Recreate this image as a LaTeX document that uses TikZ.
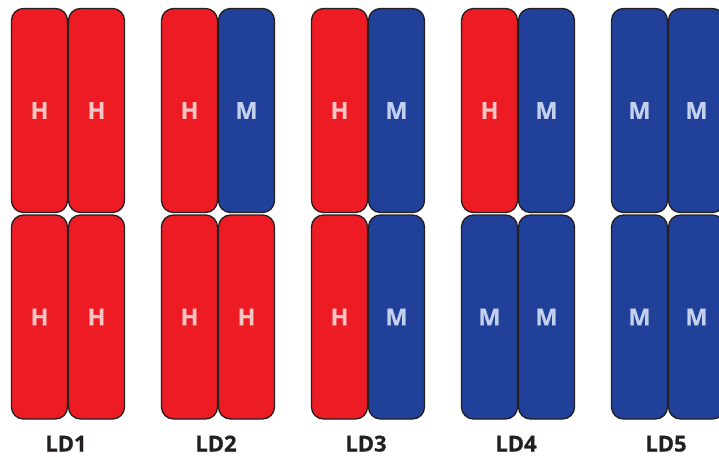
\documentclass[tikz,border=0pt]{standalone}
\usepackage{fontspec}
\setmainfont{Open Sans}[BoldFeatures={FakeBold=0.6}]
\definecolor{hred}{HTML}{ED1C24}
\definecolor{mblue}{HTML}{21409A}
\definecolor{hlab}{HTML}{F6C6C4}
\definecolor{mlab}{HTML}{C3D0EE}
\definecolor{edge}{HTML}{231F20}
\tikzset{
  chrom/.style={draw=edge, line width=1.3pt, rounded corners=12pt, minimum width=56pt, minimum height=204pt, inner sep=0pt, font=\fontsize{23.5}{23.5}\selectfont\bfseries},
  Hbox/.style={chrom, fill=hred, text=hlab},
  Mbox/.style={chrom, fill=mblue, text=mlab},
  ldlab/.style={font=\fontsize{22}{22}\selectfont\bfseries, text=edge, inner sep=0pt, anchor=base}
}
\begin{document}
\begin{tikzpicture}[x=1pt,y=-1pt]
\useasboundingbox (0,0) rectangle (719,456);
\fill[white] (0,0) rectangle (719,456);
\foreach \i/\a/\b/\c/\d in {0/H/H/H/H, 1/H/M/H/H, 2/H/M/H/M, 3/H/M/M/M, 4/M/M/M/M}{
  \node[\a box] (tl\i) at (39.5+150*\i,110.5) {\a};
  \node[\b box] (tr\i) at (96.5+150*\i,110.5) {\b};
  \node[\c box] (bl\i) at (39.5+150*\i,317) {\c};
  \node[\d box] (br\i) at (96.5+150*\i,317) {\d};
  \pgfmathtruncatemacro{\n}{\i+1}
  \node[ldlab] (ld\i) at (66+150*\i,451.5) {LD\n};
}
\end{tikzpicture}
\end{document}
